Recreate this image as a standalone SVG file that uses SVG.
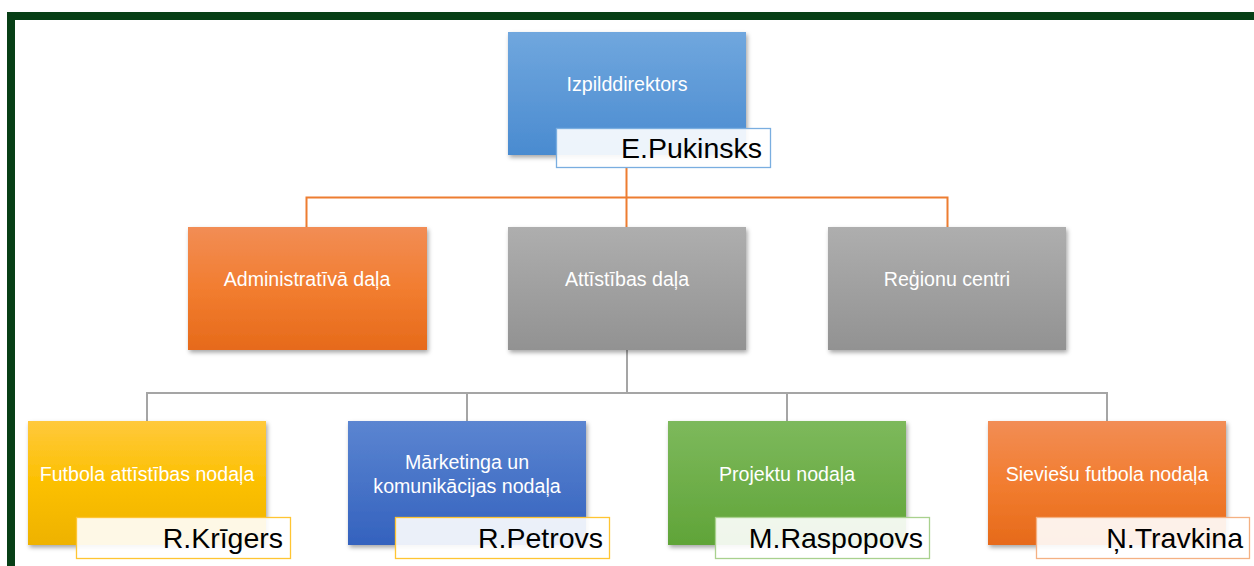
<svg xmlns="http://www.w3.org/2000/svg" width="1254" height="566" viewBox="0 0 1254 566">
<style>
.lbl{font-family:"Liberation Sans",Arial,sans-serif;font-size:19.6px;fill:#ffffff;text-anchor:middle;dominant-baseline:central}
.name{font-family:"Liberation Sans",Arial,sans-serif;font-size:28.5px;fill:#000000;text-anchor:end}
.nbox{fill:#ffffff;fill-opacity:0.9;stroke-width:1.3}
.cn{fill:none;stroke-width:2}
</style>
<defs>
<filter id="sh" x="-10%" y="-10%" width="125%" height="130%">
<feDropShadow dx="1.5" dy="2.5" stdDeviation="2" flood-color="#000" flood-opacity="0.35"/>
</filter>
<linearGradient id="gBlue" x1="0" y1="0" x2="0" y2="1"><stop offset="0" stop-color="#70a7de"/><stop offset="1" stop-color="#4a8bd0"/></linearGradient>
<linearGradient id="gOrange" x1="0" y1="0" x2="0" y2="1"><stop offset="0" stop-color="#f28d55"/><stop offset="0.5" stop-color="#f27d30"/><stop offset="1" stop-color="#e66a1a"/></linearGradient>
<linearGradient id="gGray" x1="0" y1="0" x2="0" y2="1"><stop offset="0" stop-color="#aeaeae"/><stop offset="1" stop-color="#929292"/></linearGradient>
<linearGradient id="gYellow" x1="0" y1="0" x2="0" y2="1"><stop offset="0" stop-color="#ffc93c"/><stop offset="0.5" stop-color="#fcc000"/><stop offset="1" stop-color="#eeb200"/></linearGradient>
<linearGradient id="gDBlue" x1="0" y1="0" x2="0" y2="1"><stop offset="0" stop-color="#5b85d1"/><stop offset="1" stop-color="#3462be"/></linearGradient>
<linearGradient id="gGreen" x1="0" y1="0" x2="0" y2="1"><stop offset="0" stop-color="#7db95c"/><stop offset="1" stop-color="#60a438"/></linearGradient>
</defs>
<rect width="1254" height="566" fill="#ffffff"/>
<g id="frame">
<rect x="7" y="12" width="1247" height="8" fill="#073f16"/>
<rect x="7" y="12" width="8" height="554" fill="#073f16"/>
</g>
<g id="connectors">
<path class="cn" stroke="#ed7d31" d="M626.5 168 V197.5 M306.5 227 V197.5 H947.5 V227 M626.5 197.5 V227"/>
<path class="cn" stroke="#a5a5a5" d="M627 350 V393 M147 421 V393 H1107 V421 M467 393 V421 M787 393 V421"/>
</g>
<g id="n-izpilddirektors">
<rect x="508" y="32" width="238" height="123" fill="url(#gBlue)" filter="url(#sh)"/>
<text class="lbl" x="627" y="84">Izpilddirektors</text>
<rect class="nbox" x="556.5" y="128.5" width="214" height="39" stroke="#7aaee0"/>
<text class="name" x="762" y="158">E.Pukinsks</text>
</g>
<g id="n-admin">
<rect x="188" y="227" width="239" height="123" fill="url(#gOrange)" filter="url(#sh)"/>
<text class="lbl" x="307" y="279">Administratīvā daļa</text>
</g>
<g id="n-attistibas">
<rect x="508" y="227" width="238" height="123" fill="url(#gGray)" filter="url(#sh)"/>
<text class="lbl" x="627" y="279">Attīstības daļa</text>
</g>
<g id="n-regionu">
<rect x="828" y="227" width="238" height="123" fill="url(#gGray)" filter="url(#sh)"/>
<text class="lbl" x="947" y="279">Reģionu centri</text>
</g>
<g id="n-futbola">
<rect x="28" y="421" width="238" height="124" fill="url(#gYellow)" filter="url(#sh)"/>
<text class="lbl" x="147" y="474">Futbola attīstības nodaļa</text>
<rect class="nbox" x="76.5" y="517.5" width="214" height="41" stroke="#ffc533"/>
<text class="name" x="283" y="548">R.Krīgers</text>
</g>
<g id="n-marketinga">
<rect x="348" y="421" width="238" height="124" fill="url(#gDBlue)" filter="url(#sh)"/>
<text class="lbl" x="467" y="462">Mārketinga un</text>
<text class="lbl" x="467" y="486">komunikācijas nodaļa</text>
<rect class="nbox" x="395.5" y="517.5" width="214" height="41" stroke="#ffc533"/>
<text class="name" x="603" y="548">R.Petrovs</text>
</g>
<g id="n-projektu">
<rect x="668" y="421" width="238" height="124" fill="url(#gGreen)" filter="url(#sh)"/>
<text class="lbl" x="787" y="474">Projektu nodaļa</text>
<rect class="nbox" x="715.5" y="517.5" width="214" height="41" stroke="#a9d18e"/>
<text class="name" x="923" y="548">M.Raspopovs</text>
</g>
<g id="n-sieviesu">
<rect x="988" y="421" width="238" height="124" fill="url(#gOrange)" filter="url(#sh)"/>
<text class="lbl" x="1107" y="474">Sieviešu futbola nodaļa</text>
<rect class="nbox" x="1036.5" y="517.5" width="213" height="41" stroke="#f4b183"/>
<text class="name" x="1243" y="548">Ņ.Travkina</text>
</g>
</svg>
